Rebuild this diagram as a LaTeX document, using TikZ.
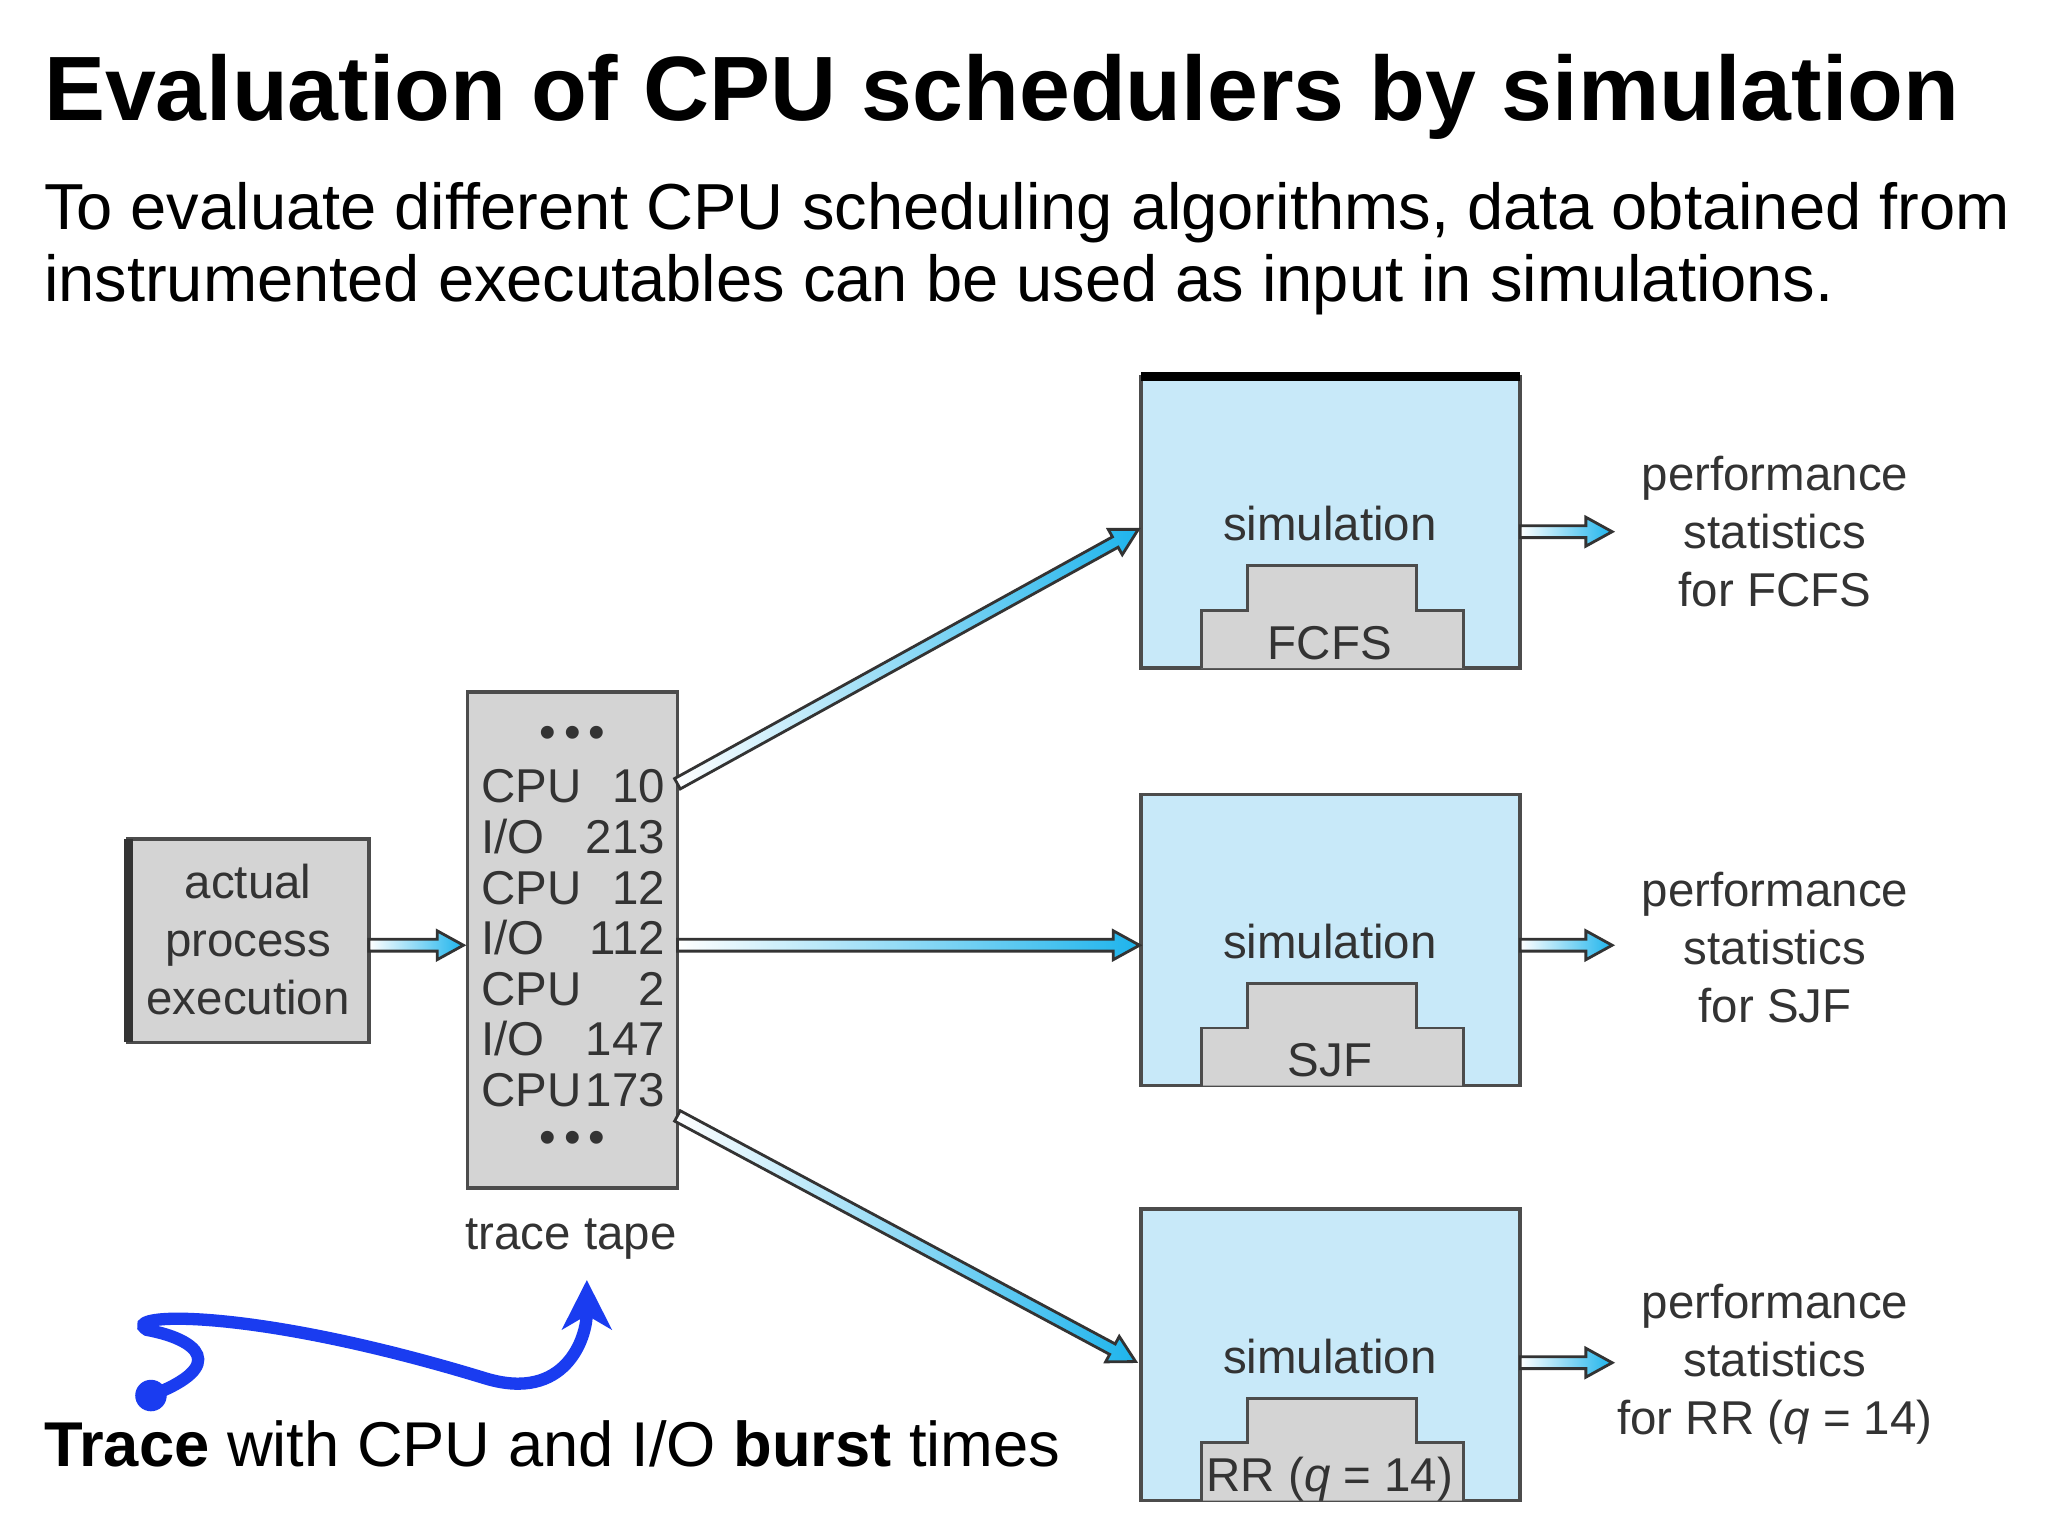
\documentclass[tikz,border=0pt]{standalone}
\usepackage{fontspec}
\setmainfont{Liberation Sans}
\usetikzlibrary{arrows.meta}
\definecolor{simblue}{HTML}{C8E9F9}
\definecolor{boxgray}{HTML}{D4D4D4}
\definecolor{arrcyan}{HTML}{1EB4EC}
\definecolor{txt}{HTML}{333333}
\definecolor{hand}{HTML}{1A3CF0}
\tikzset{
  u/.style={x=0.013128cm,y=-0.013128cm},
  graybox/.style={draw=black!70,fill=boxgray,line width=1pt},
  simbox/.style={draw=black!70,fill=simblue,line width=1pt},
  dtext/.style={text=txt,font=\fontsize{13.5}{16.5}\selectfont,align=center},
  fat/.style={draw=black!80,line width=0.8pt,shade,shading angle=0,left color=white,right color=arrcyan},
}
\newcommand{\fatarr}[3]{% start, angle, length
  \begin{scope}[shift={#1},rotate=#2]
  \path[fat] (0,-4.5)--(#3-20,-4.5)--(#3-20,-11)--(#3,0)--(#3-20,11)--(#3-20,4.5)--(0,4.5)--cycle;
  \end{scope}}
\newcommand{\simbx}[2]{% top y, label
  \begin{scope}[shift={(0,#1)}]
  \path[simbox] (869,0) rectangle (1158,222);
  \path[graybox,line width=0.8pt] (915,222)--(915,178)--(950,178)--(950,144)--(1079,144)--(1079,178)--(1115,178)--(1115,222);
  \node[dtext] at (1013,112) {simulation};
  \node[dtext,anchor=base] at (1013,215) {#2};
  \end{scope}}
\newcommand{\qeq}{(\textit{q} = 14)}
\begin{document}
\begin{tikzpicture}[u]
\useasboundingbox[fill=white] (0,0) rectangle (1560,1170);
\node[anchor=base west,inner sep=0,font=\fontsize{26}{30}\bfseries\selectfont] (title) at (33,92) {Evaluation of CPU schedulers by simulation};
\node[anchor=base west,inner sep=0,font=\fontsize{18.5}{22}\selectfont] (sub1) at (33,175) {To evaluate different CPU scheduling algorithms, data obtained from};
\node[anchor=base west,inner sep=0,font=\fontsize{18.5}{22}\selectfont] (sub2) at (33,230) {instrumented executables can be used as input in simulations.};
% actual process
\path[graybox] (97,639) rectangle (281,794);
\draw[line width=2.5pt,black!80] (98,639)--(98,794);
\node[dtext] (ape) at (189,716) {actual\\process\\execution};
% trace tape
\path[graybox] (356,527) rectangle (516,905);
\node[dtext,anchor=base] at (436,570) {\textbullet\,\textbullet\,\textbullet};
\foreach \a/\b/\y in {CPU/10/611,{I/O}/213/650,CPU/12/689,{I/O}/112/727,CPU/2/766,{I/O}/147/804,CPU/173/843}{
  \node[dtext,anchor=base west,inner sep=0] at (366,\y) {\a};
  \node[dtext,anchor=base east,inner sep=0] at (507,\y) {\b};}
\node[dtext,anchor=base] at (436,879) {\textbullet\,\textbullet\,\textbullet};
\node[dtext] (tt) at (435,944) {trace tape};
% sims
\simbx{287}{FCFS}
\draw[line width=2.5pt] (869,287)--(1158,287);
\simbx{605}{SJF}
\simbx{921}{RR \qeq}
% arrows
\fatarr{(281,720)}{0}{72}
\fatarr{(516,597)}{28.9}{401}
\fatarr{(516,720)}{0}{352}
\fatarr{(516,850)}{-28.2}{396}
\foreach \y in {405,720,1038}{\fatarr{(1158,\y)}{0}{70}}
% outputs
\node[dtext] at (1352,405) {performance\\statistics\\for FCFS};
\node[dtext] at (1352,722) {performance\\statistics\\for SJF};
\node[dtext] at (1352,1039) {performance\\statistics\\for RR \qeq};
% hand annotation
\fill[hand] (115,1063) circle (12);
\coordinate (hs) at (115,1063);
\coordinate (he) at (447,975);
\draw[hand,line width=3.5pt,-{Stealth[length=14,width=14,inset=4]}] (hs) .. controls (175,1040) and (150,1020) .. (112,1013) .. controls (90,1000) and (190,995) .. (370,1050) .. controls (430,1068) and (447,1020) .. (he);
\node[anchor=base west,inner sep=0,font=\fontsize{18}{22}\selectfont] (tr) at (33,1117) {\textbf{Trace} with CPU and I/O \textbf{burst} times};
\end{tikzpicture}
\end{document}
